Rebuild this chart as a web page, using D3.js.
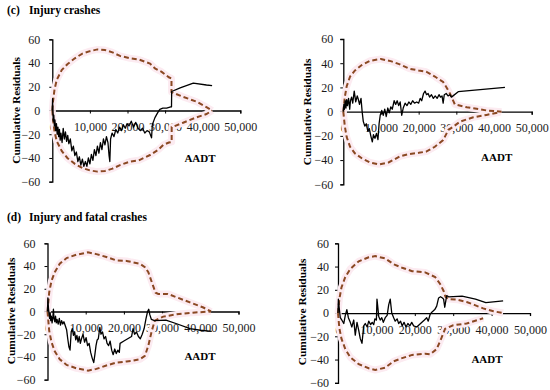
<!DOCTYPE html>
<html>
<head>
<meta charset="utf-8">
<script src="https://cdn.jsdelivr.net/npm/d3@7"></script>
<style>
    body { margin: 0; background: #fff; }
    svg { display: block; font-family: "Liberation Serif", "Times New Roman", serif; }
</style>
</head>
<body>
<div id="chart"></div>
<script>
// axis ticks shared by all four panels
const xTicks = [0, 10000, 20000, 30000, 40000, 50000];
const yTicks = [-60, -40, -20, 0, 20, 40, 60];

// section titles
const titles = ["(c)", "Injury crashes", "(d)", "Injury and fatal crashes"];

// (c) injury crashes, left panel  [AADT, cumulative residual]
const injLeftUpper = [[0,0],[200,8],[600,18],[1200,26],[2500,34],[4000,39],[6000,44],[8000,48],[10000,50],[12000,51.5],[14000,51],[16000,49],[18000,46],[20700,44],[23000,43],[26000,39.5],[27300,35.5],[29100,32.5],[31000,28],[31700,27],[31700,15.5],[34800,11.5],[38400,7.4],[41000,2.8],[42500,0]];
const injLeftLower = [[0,0],[200,-8],[600,-18],[1200,-26],[2500,-34],[4000,-40],[6000,-45],[8000,-48.5],[10000,-50.5],[12000,-51.5],[14000,-51],[16000,-49],[18000,-46],[20700,-43],[23000,-42],[26000,-37.5],[28200,-33],[29500,-29],[31000,-27],[31750,-26.5],[31750,-14],[32200,-13.6],[34800,-10.3],[38400,-5.7],[41000,-3],[42500,0]];
const injLeftCure = [[0,0],[80,10],[150,0],[250,-9],[400,-4],[550,-13],[700,-8],[900,-17],[1100,-11],[1300,-20],[1500,-14],[1700,-22],[1900,-16],[2100,-25],[2300,-19],[2600,-27],[2900,-15],[3200,-24],[3500,-18],[3800,-26],[4100,-21],[4400,-28],[4800,-24],[5200,-34],[5600,-30],[6000,-38],[6400,-35],[6800,-43],[7200,-39],[7600,-46],[8000,-41],[8400,-47],[8800,-43],[9200,-47],[9600,-40],[10000,-45],[10400,-37],[10800,-42],[11200,-33],[11600,-38],[12000,-30],[12400,-36],[12800,-27],[13200,-33],[13600,-24],[14000,-29],[14400,-22],[14800,-27],[15100,-38],[15300,-43],[15500,-24],[15900,-19],[16400,-22],[16900,-16],[17400,-19],[17900,-14],[18400,-17],[18900,-12],[19400,-15],[19900,-11],[20400,-13],[21000,-9],[21600,-14],[22200,-10],[22800,-15],[23400,-17],[24000,-15],[24600,-19],[25200,-17],[25800,-18],[26400,-23],[26600,-12],[27300,-6],[28000,-2],[28600,1],[29400,2],[30400,2],[31500,3],[31700,3],[31750,16],[34000,19],[37500,23],[41000,21.5],[42500,21]];

// (c) injury crashes, right panel
const injRightUpper = [[0,0],[400,12],[900,21],[1800,29],[3100,34],[4900,38.5],[7100,42],[10000,43.5],[12800,41.5],[15000,39],[17500,35.5],[20000,34],[22000,33],[24300,29],[26500,24.5],[27400,20],[28300,15],[29600,6],[32800,3.6],[38000,1],[42000,0]];
const injRightLower = [[0,0],[400,-12],[900,-21],[1800,-29],[3100,-34.5],[4900,-38.5],[7100,-42],[9500,-43.5],[12000,-42],[15000,-37],[17500,-35],[20000,-34],[22000,-33],[24300,-29],[26500,-23.5],[27900,-15],[29200,-12.4],[31000,-8.2],[34500,-4.7],[38000,-2.7],[41600,-0.5]];
const injRightCure = [[0,0],[150,6],[300,2],[500,9],[700,3],[900,10],[1100,5],[1400,11],[1700,2],[1900,9],[2200,12],[2500,7],[2900,17],[3300,8],[3700,13],[4000,10],[4300,6],[4700,11],[5000,0],[5300,-8],[5700,-12],[6100,-10],[6500,-16],[6900,-14],[7300,-20],[7700,-25],[8000,-19],[8400,-22],[8800,-18],[9200,-23],[9500,-10],[9800,-3],[10200,1],[10600,-3],[11000,2],[11400,-4],[11800,3],[12200,-1],[12600,4],[13000,2],[13500,9],[13900,6],[14300,9],[14700,5],[15100,8],[15500,-3],[15900,3],[16400,7],[16900,5],[17400,8],[17900,6],[18400,9],[18900,7],[19500,8],[20000,7],[20400,11],[20800,9],[21300,15],[21700,17],[22100,14],[22500,15],[22900,12],[23400,14],[23900,11],[24400,13],[24900,11],[25400,14],[25800,12],[26200,13],[26500,7],[26800,14],[27300,15],[27800,13],[28300,14],[28700,12],[30500,16.5],[42900,20]];

// (d) injury and fatal crashes, left panel
const fatLeftUpper = [[0,0],[450,17],[1050,27],[1900,34.5],[3200,42],[5000,47],[7600,50],[10600,52],[12800,50.5],[15400,48],[18000,45],[20700,44.5],[22000,43.5],[24200,42],[25500,39],[26400,34.5],[27600,23],[28300,16.5],[29000,15.5],[31500,15.5],[33800,12.5],[37300,8],[40800,3.5],[42800,0]];
const fatLeftLower = [[0,0],[450,-17],[1050,-27],[1900,-35],[3200,-42],[5000,-47],[7600,-50],[10600,-52],[12800,-50.5],[15400,-47.5],[18000,-45],[20700,-44],[22000,-43.5],[24200,-42],[25500,-39],[26400,-30],[27300,-17],[28100,-8],[30300,-4.5],[33800,-2.5],[38000,-1],[42800,0]];
const fatLeftCure = [[0,0],[100,12],[250,3],[400,-2],[550,-6],[700,-1],[850,-8],[1000,-4],[1200,-10],[1400,-5],[1550,2],[1700,-6],[1900,-9],[2100,-4],[2300,-10],[2500,-7],[2800,-11],[3100,-6],[3400,-12],[3700,-8],[4000,-11],[4300,-9],[4700,-13],[5000,-16],[5300,-24],[5600,-31],[5900,-34],[6200,-18],[6500,-15],[6800,-21],[7100,-18],[7400,-25],[7700,-21],[8000,-27],[8300,-22],[8600,-28],[8900,-24],[9300,-20],[9700,-27],[10100,-23],[10500,-30],[10900,-28],[11300,-36],[11700,-41],[12100,-45],[12400,-38],[12700,-30],[13000,-25],[13300,-24],[13700,-14],[14000,-20],[14400,-18],[14800,-24],[15200,-22],[15600,-28],[16000,-30],[16400,-26],[16800,-34],[17200,-38],[17600,-33],[18000,-37],[18400,-34],[18800,-36],[19000,-28],[20000,-26],[21000,-24],[22000,-22],[22400,-15],[22800,-20],[23300,-18],[23800,-22],[24300,-24],[24800,-20],[25300,-15],[25800,-6],[26200,0],[26500,2],[26800,-3],[27200,-7],[28000,-8],[31000,-7.5],[34000,-11],[37300,-15],[40000,-16.5],[43000,-17.5]];

// (d) injury and fatal crashes, right panel
const fatRightUpper = [[0,0],[350,12],[900,22],[1900,31],[3200,38],[5400,44.5],[8000,48],[9700,49],[12300,47],[14500,42],[16700,39],[19300,36],[22700,35],[25300,31],[26600,25],[27500,19],[28000,14],[28800,12],[31000,11.5],[33500,9.5],[35500,7],[37800,4],[40500,1.5],[43000,0]];
const fatRightLower = [[0,0],[350,-13],[900,-22],[1900,-31],[3200,-38],[5400,-44],[8000,-47.5],[9700,-49],[12300,-47],[14500,-41.5],[16500,-39],[19300,-36],[22700,-35],[24000,-35.5],[25700,-31],[27000,-21],[27900,-13.5],[30000,-10.5],[33500,-9],[37800,-4.5]];
const fatRightCure = [[0,0],[100,12],[300,5],[600,-4],[1000,-6],[1500,-9],[1900,-2],[2300,3],[2700,-4],[3200,-8],[3600,-12],[4100,-6],[4500,-19],[4950,-8],[5400,-15],[5800,-22],[6250,-26],[6700,-11],[7100,-9],[7600,-12],[8000,-7],[8500,-10],[8900,-8],[9300,-10],[9600,-5],[10000,-6],[10150,12],[10400,4],[10600,-3],[11000,-6],[11400,-4],[11800,-8],[12300,-4],[12800,-2],[13200,7],[13600,12],[14000,0],[14500,-4],[14900,-7],[15400,-5],[15800,-9],[16300,-7],[16700,-11],[17200,-8],[17700,-12],[18200,-9],[18700,-11],[19200,-8],[19700,-11],[20500,-12],[21500,-9],[22500,-6],[23100,-4],[23500,-7],[24000,-1],[24500,1],[25200,3],[25700,6],[26200,13],[26700,14],[27200,13],[27500,12],[27800,5],[28300,15],[28800,14],[32300,14.5],[35800,12],[38500,9],[43000,10.5]];

class CurePlot {
    constructor(svg, cfg) {
        this.svg = svg;
        this.cfg = cfg;
        this.boundColor = "#8a4822";
        this.initVis();
    }

    initVis() {
        let vis = this;
        const c = vis.cfg;

        vis.x = d3.scaleLinear().domain([0, 50000]).range([c.x0, c.x1]);
        vis.y = d3.scaleLinear().domain([-60, 60]).range([c.yBottom, c.yTop]);

        vis.g = vis.svg.append("g");

        // y axis on the left
        const yAxis = d3.axisLeft(vis.y)
            .tickValues(yTicks)
            .tickSize(3)
            .tickPadding(c.yPad)
            .tickFormat(d => d < 0 ? "\u2212" + Math.abs(d) : d);

        vis.g.append("g")
            .attr("class", "y-axis")
            .attr("transform", `translate(${c.x0},0)`)
            .call(yAxis);

        // x axis sits on the zero line
        const xAxis = d3.axisBottom(vis.x)
            .tickValues(xTicks)
            .tickSize(3)
            .tickPadding(9)
            .tickFormat(d3.format(","));

        vis.g.append("g")
            .attr("class", "x-axis")
            .attr("transform", `translate(0,${vis.y(0)})`)
            .call(xAxis);

        vis.g.selectAll(".domain").attr("stroke", "#000").attr("stroke-width", 1.3);
        vis.g.selectAll(".tick line").attr("stroke", "#000").attr("stroke-width", 1);
        vis.g.selectAll(".tick text")
            .attr("fill", "#1a1a1a")
            .style("font-size", "12px")
            .style("font-family", "'Liberation Serif', serif");

        // axis titles
        vis.g.append("text")
            .attr("transform", `translate(${c.yTitleX},${c.yTitleY}) rotate(-90)`)
            .attr("text-anchor", "middle")
            .attr("dominant-baseline", "central")
            .style("font-size", "11.4px")
            .style("font-weight", "bold")
            .text("Cumulative Residuals");

        vis.g.append("text")
            .attr("x", c.aadtX)
            .attr("y", c.aadtY)
            .attr("text-anchor", "middle")
            .attr("dominant-baseline", "central")
            .style("font-size", "11px")
            .style("font-weight", "bold")
            .text("AADT");

        vis.updateVis();
    }

    updateVis() {
        let vis = this;
        const line = d3.line()
            .x(d => vis.x(d[0]))
            .y(d => vis.y(d[1]));

        const bounds = [vis.cfg.upper, vis.cfg.lower];

        // faint pink haze behind the bounds
        vis.g.selectAll(".halo")
            .data(bounds)
            .enter()
            .append("path")
            .attr("class", "halo")
            .attr("d", line)
            .attr("fill", "none")
            .attr("stroke", "#fcebf1")
            .attr("stroke-width", 7)
            .attr("stroke-linejoin", "round");

        // dashed +/- 2 sigma bounds
        vis.g.selectAll(".bound")
            .data(bounds)
            .enter()
            .append("path")
            .attr("class", "bound")
            .attr("d", line)
            .attr("fill", "none")
            .attr("stroke", vis.boundColor)
            .attr("stroke-width", 2)
            .attr("stroke-dasharray", "5,3");

        // cumulative residuals
        vis.g.append("path")
            .datum(vis.cfg.cure)
            .attr("d", line)
            .attr("fill", "none")
            .attr("stroke", "#000")
            .attr("stroke-width", 1.3)
            .attr("stroke-linejoin", "round");
    }
}

const svg = d3.select("#chart")
    .append("svg")
    .attr("width", 550)
    .attr("height", 390);

// section headings
[[titles[0], titles[1], 13.5], [titles[2], titles[3], 221]].forEach(([tag, name, yy]) => {
    svg.append("text").attr("x", 7).attr("y", yy)
        .style("font-size", "11.5px").style("font-weight", "bold").text(tag);
    svg.append("text").attr("x", 29).attr("y", yy)
        .style("font-size", "11.5px").style("font-weight", "bold").text(name);
});

new CurePlot(svg, {
    x0: 52.3, x1: 240.3, yTop: 39.3, yBottom: 181.7, yPad: 9,
    yTitleX: 15.5, yTitleY: 110.5, aadtX: 200, aadtY: 157.5,
    upper: injLeftUpper, lower: injLeftLower, cure: injLeftCure
});
new CurePlot(svg, {
    x0: 343.3, x1: 531.7, yTop: 39, yBottom: 184.3, yPad: 7,
    yTitleX: 306.5, yTitleY: 112, aadtX: 496.7, aadtY: 157.3,
    upper: injRightUpper, lower: injRightLower, cure: injRightCure
});
new CurePlot(svg, {
    x0: 47.5, x1: 238.5, yTop: 243.3, yBottom: 379.7, yPad: 9,
    yTitleX: 11, yTitleY: 311, aadtX: 200, aadtY: 356,
    upper: fatLeftUpper, lower: fatLeftLower, cure: fatLeftCure
});
new CurePlot(svg, {
    x0: 338, x1: 530, yTop: 243.3, yBottom: 382.8, yPad: 6,
    yTitleX: 302, yTitleY: 312, aadtX: 487, aadtY: 359.3,
    upper: fatRightUpper, lower: fatRightLower, cure: fatRightCure
});
</script>
</body>
</html>
